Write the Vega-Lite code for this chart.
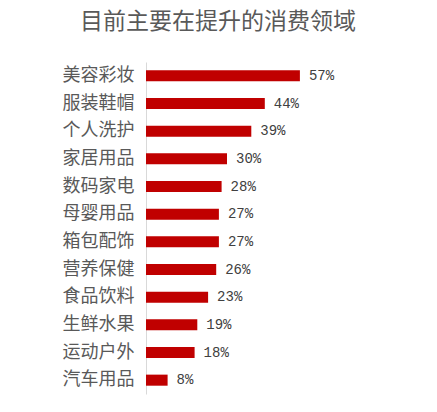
{
  "$schema": "https://vega.github.io/schema/vega-lite/v6.json",
  "autosize": "none",
  "padding": {"left": 146, "top": 62, "right": 21, "bottom": 18},
  "width": 270,
  "height": 332,
  "background": "#ffffff",
  "title": {
    "text": "目前主要在提升的消费领域",
    "font": "Noto Sans CJK SC",
    "fontSize": 23,
    "fontWeight": "normal",
    "color": "#595959",
    "anchor": "middle",
    "dx": -63,
    "offset": 28
  },
  "data": {
    "values": [
      {"cat": "美容彩妆", "pct": 57},
      {"cat": "服装鞋帽", "pct": 44},
      {"cat": "个人洗护", "pct": 39},
      {"cat": "家居用品", "pct": 30},
      {"cat": "数码家电", "pct": 28},
      {"cat": "母婴用品", "pct": 27},
      {"cat": "箱包配饰", "pct": 27},
      {"cat": "营养保健", "pct": 26},
      {"cat": "食品饮料", "pct": 23},
      {"cat": "生鲜水果", "pct": 19},
      {"cat": "运动户外", "pct": 18},
      {"cat": "汽车用品", "pct": 8}
    ]
  },
  "encoding": {
    "y": {
      "field": "cat",
      "type": "nominal",
      "sort": null,
      "title": null,
      "scale": {"paddingInner": 0.6, "paddingOuter": 0.3},
      "axis": {
        "labelFont": "Noto Sans CJK SC",
        "labelFontSize": 18,
        "labelColor": "#595959",
        "labelPadding": 12,
        "ticks": false,
        "domainColor": "#d9d9d9",
        "domainWidth": 1
      }
    },
    "x": {
      "field": "pct",
      "type": "quantitative",
      "scale": {"domain": [0, 100]},
      "axis": null
    }
  },
  "layer": [
    {
      "mark": {"type": "bar", "color": "#c00000"}
    },
    {
      "mark": {
        "type": "text",
        "align": "left",
        "baseline": "middle",
        "dx": 9,
        "font": "Liberation Mono",
        "fontSize": 14,
        "color": "#404040"
      },
      "encoding": {
        "text": {"field": "label", "type": "nominal"}
      },
      "transform": [
        {"calculate": "datum.pct + '%'", "as": "label"}
      ]
    }
  ],
  "config": {
    "view": {"stroke": null}
  }
}
